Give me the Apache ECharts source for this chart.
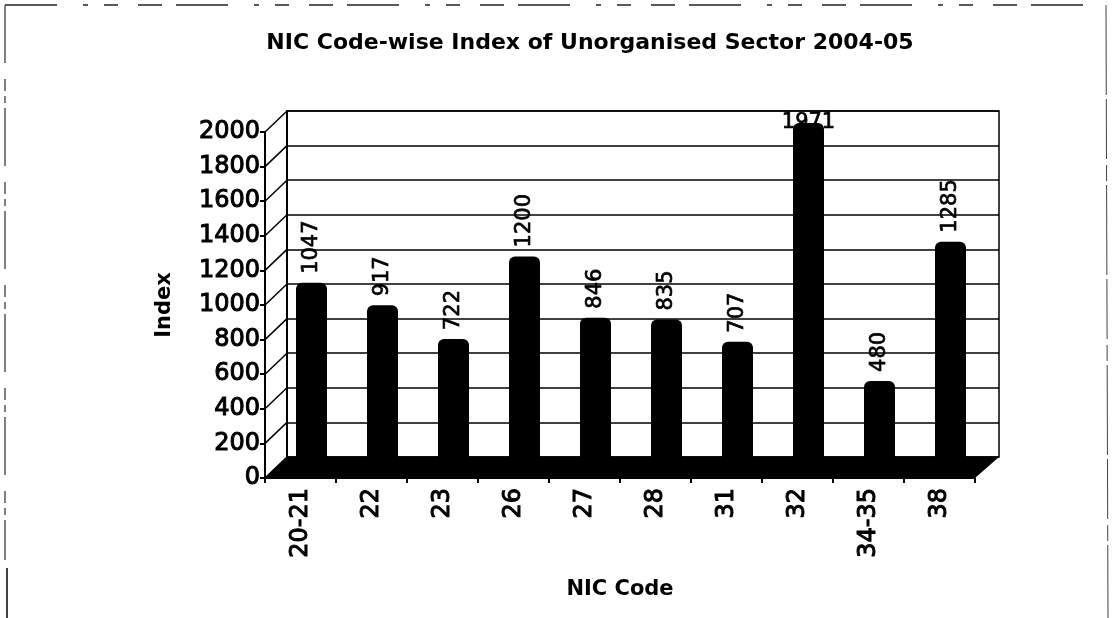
<!DOCTYPE html>
<html>
<head>
<meta charset="utf-8">
<script src="https://cdn.jsdelivr.net/npm/echarts@6/dist/echarts.min.js"></script>
<style>
  html, body { margin: 0; padding: 0; background: #fff; }
  #chart { width: 1113px; height: 618px; }
</style>
</head>
<body>
<div id="chart"></div>
<script>
const categories = ['20-21', '22', '23', '26', '27', '28', '31', '32', '34-35', '38'];
const values = [1047, 917, 722, 1200, 846, 835, 707, 1971, 480, 1285];
const yTicks = [0, 200, 400, 600, 800, 1000, 1200, 1400, 1600, 1800, 2000];

const font = '"DejaVu Sans", sans-serif';
const ink = '#000';
const depthX = 22;
const depthY = 21;

// front plane holds the axes, back plane the gridlines, bars sit half way between
const front = { left: 265, top: 132, width: 710, height: 346 };
const back = { left: front.left + depthX, top: front.top - depthY, width: 712, height: 346 };
const mid = { left: front.left + 11, top: front.top - 14, width: 710, height: 346 };

function catAxis(idx, show) {
  return {
    type: 'category', gridIndex: idx, data: categories,
    show: show,
    name: show ? 'NIC Code' : '',
    nameLocation: 'middle', nameGap: 101,
    nameTextStyle: { fontFamily: font, fontSize: 21, fontWeight: 'bold', color: ink },
    axisLine: { lineStyle: { color: ink, width: 2 } },
    axisTick: { show: true, length: 5, lineStyle: { color: ink, width: 2 } },
    axisLabel: { rotate: 90, fontFamily: font, fontSize: 24, color: ink, margin: 10, textBorderColor: ink, textBorderWidth: 1 }
  };
}
function valAxis(idx, show, lines) {
  return {
    type: 'value', gridIndex: idx, min: 0, max: 2000, interval: 200,
    show: show,
    name: show ? 'Index' : '',
    nameLocation: 'middle', nameGap: 90,
    nameTextStyle: { fontFamily: font, fontSize: 21, fontWeight: 'bold', color: ink },
    axisLine: { show: true, lineStyle: { color: ink, width: 2 } },
    axisTick: { show: true, length: 5, lineStyle: { color: ink, width: 2 } },
    axisLabel: {
      formatter: function (v) { return String(v); },
      fontFamily: font, fontSize: 24, color: ink, margin: 5, textBorderColor: ink, textBorderWidth: 1
    },
    splitLine: { show: lines, lineStyle: { color: ink, width: 1.5 } }
  };
}

const barData = values.map(function (v) {
  // the tallest label lies flat in the source, half hidden by its bar
  const flat = v === 1971;
  return {
    value: v,
    label: flat ? { rotate: 0, distance: 0, align: 'center', verticalAlign: 'middle' } : {}
  };
});

const option = {
  animation: false,
  backgroundColor: '#fff',
  title: {
    text: 'NIC Code-wise Index of Unorganised Sector 2004-05',
    left: 585, top: 27, textAlign: 'center',
    textStyle: { fontFamily: font, fontSize: 22, fontWeight: 'bold', color: ink }
  },
  grid: [
    { left: back.left, top: back.top, width: back.width, height: back.height, show: true, borderColor: ink, borderWidth: 1.5, backgroundColor: 'transparent' },
    { left: front.left, top: front.top, width: front.width, height: front.height },
    { left: mid.left, top: mid.top, width: mid.width, height: mid.height }
  ],
  xAxis: [
    catAxis(0, false),
    catAxis(1, true),
    catAxis(2, false)
  ],
  yAxis: [
    valAxis(0, true, true),
    valAxis(1, true, false),
    valAxis(2, false, false)
  ].map(function (a, i) {
    // back plane only keeps its gridlines and left edge
    if (i === 0) {
      a.name = '';
      a.axisLabel = { show: false };
      a.axisTick = { show: false };
    }
    return a;
  }),
  series: [
    {
      // side wall edges and the floor, tied to the front plane
      type: 'custom', xAxisIndex: 1, yAxisIndex: 1, z: 3, silent: true, clip: false,
      coordinateSystem: 'cartesian2d',
      data: yTicks,
      renderItem: function (params, api) {
        const cs = params.coordSys;
        const y = api.coord([0, api.value(0)])[1];
        const kids = [{
          type: 'line',
          shape: { x1: cs.x, y1: y, x2: cs.x + depthX, y2: y - depthY },
          style: { stroke: ink, lineWidth: 1.5 }
        }];
        if (api.value(0) === 0) {
          kids.push({
            type: 'polygon',
            shape: { points: [[cs.x, y], [cs.x + cs.width, y], [back.left + back.width, y - depthY], [cs.x + depthX, y - depthY]] },
            style: { fill: ink }
          });
        }
        return { type: 'group', children: kids };
      },
      encode: { y: 0 }
    },
    {
      type: 'bar', xAxisIndex: 2, yAxisIndex: 2, z: 4,
      data: barData,
      barWidth: 31,
      itemStyle: { color: ink, borderRadius: [6, 6, 0, 0] },
      label: {
        show: true, position: 'top', rotate: 90, distance: 9,
        fontFamily: font, fontSize: 21, color: ink,
        textBorderColor: ink, textBorderWidth: 0.7,
        align: 'left', verticalAlign: 'middle'
      }
    }
  ],
  graphic: [
    // scanned frame round the picture
    { type: 'line', shape: { x1: 5, y1: 5, x2: 1106, y2: 5 }, style: { stroke: '#222', lineWidth: 1.5, lineDash: [52, 26, 5, 16, 14, 20, 24, 14] } },
    { type: 'line', shape: { x1: 5, y1: 5, x2: 5, y2: 560 }, style: { stroke: '#555', lineWidth: 1.5, lineDash: [58, 16, 12, 5, 7, 5] } },
    { type: 'line', shape: { x1: 7, y1: 568, x2: 7, y2: 618 }, style: { stroke: '#000', lineWidth: 1.5 } },
    { type: 'line', shape: { x1: 1106, y1: 5, x2: 1108, y2: 618 }, style: { stroke: '#444', lineWidth: 1, lineDash: [90, 4, 60, 6, 16, 4] } }
  ]
};

const myChart = echarts.init(document.getElementById('chart'), null, { renderer: 'canvas' });
myChart.setOption(option);
</script>
</body>
</html>
